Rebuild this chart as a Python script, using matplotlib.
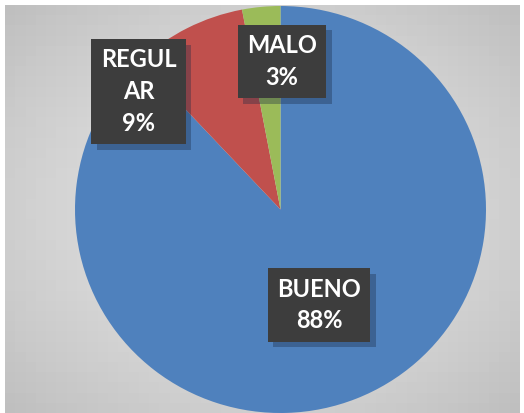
import numpy as np
import matplotlib
matplotlib.use("Agg")
import matplotlib.pyplot as plt
import matplotlib.patheffects as pe

categories = ["BUENO", "REGULAR", "MALO"]
values = [88, 9, 3]
label_texts = ["BUENO\n88%", "REGUL\nAR\n9%", "MALO\n3%"]
colors = ["#4F81BD", "#C0504D", "#9BBB59"]

W, H = 524, 413
fig = plt.figure(figsize=(W / 100, H / 100), dpi=100)
fig.patch.set_facecolor("white")

# background gradient panel
bx0, by0, bx1, by1 = 5, 5, 520, 413
bg = fig.add_axes([bx0 / W, 1 - by1 / H, (bx1 - bx0) / W, (by1 - by0) / H])
ny, nx = 40, 50
yy, xx = np.mgrid[-1:1:ny * 1j, -1:1:nx * 1j]
r = np.sqrt(xx ** 2 + yy ** 2) / np.sqrt(2)
c0, c1 = 0.89, 0.75
img = c0 + (c1 - c0) * r ** 1.6
bg.imshow(np.dstack([img, img, img]), aspect="auto", interpolation="nearest",
          extent=[0, 1, 0, 1])
bg.set_axis_off()

# pie axes (slightly elliptical)
cx, cy = 280.5, 209.5
rx, ry = 205.5, 203.5
ax = fig.add_axes([(cx - rx) / W, 1 - (cy + ry) / H, 2 * rx / W, 2 * ry / H])
wedges, _ = ax.pie(values, colors=colors, startangle=90, counterclock=False,
                   radius=1.0, wedgeprops=dict(linewidth=0))
ax.set_xlim(-1, 1)
ax.set_ylim(-1, 1)
ax.set_aspect("auto")
ax.set_axis_off()

# label boxes (pixel centres)
label_pos = [(319, 305), (138.5, 91.5), (282, 61.5)]
for txt, (px, py) in zip(label_texts, label_pos):
    dx = (px - cx) / rx
    dy = (cy - py) / ry
    t = ax.text(dx, dy, txt, ha="center", va="center", color="white",
                fontsize=17, fontweight="bold", family=["Lato", "DejaVu Sans"],
                linespacing=1.45,
                bbox=dict(boxstyle="square,pad=0.4", facecolor="#3d3d3d",
                          edgecolor="none"))
    t.get_bbox_patch().set_path_effects(
        [pe.withSimplePatchShadow(offset=(4, -4), shadow_rgbFace="#1a2a44",
                                  alpha=0.35), pe.Normal()])

fig.savefig("out.png", dpi=100)
